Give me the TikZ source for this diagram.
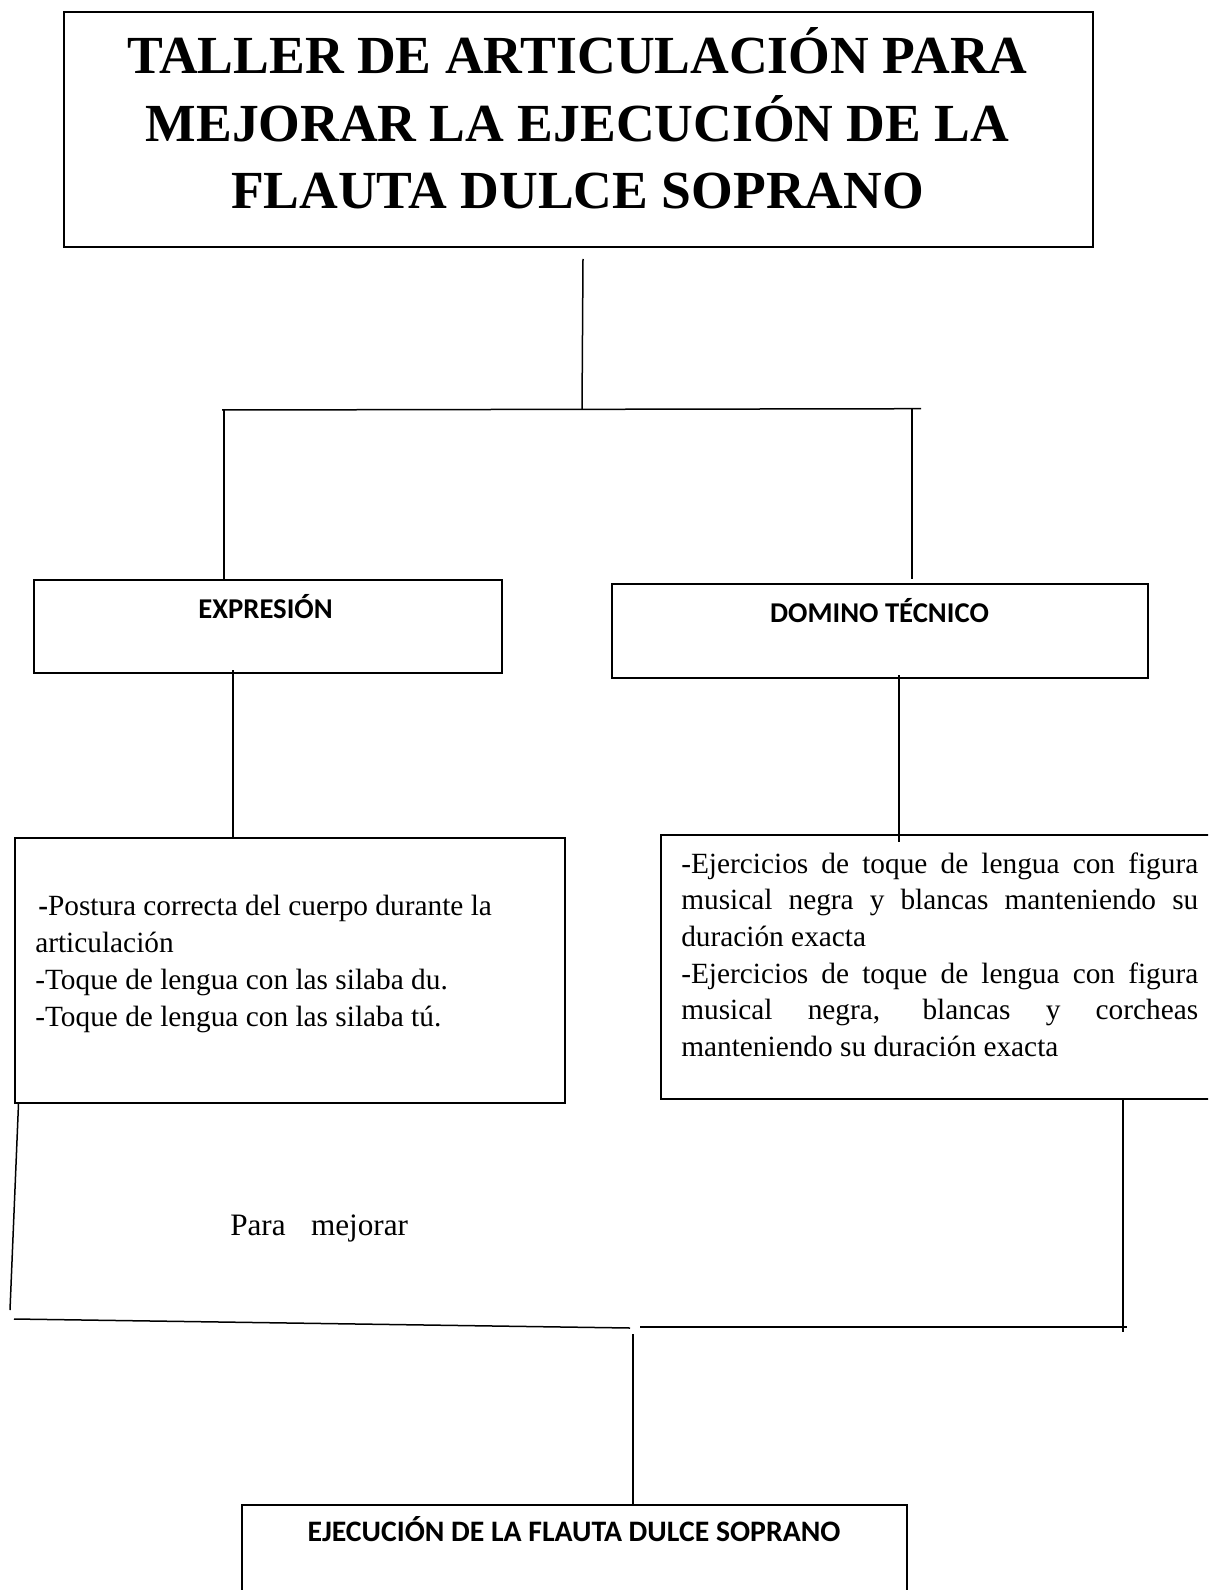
\documentclass[tikz,border=0pt]{standalone}
\usepackage{fontspec}
\setmainfont{Liberation Serif}
\newfontfamily\calib{Carlito}
\usetikzlibrary{calc}
\newlength\pxu
\setlength\pxu{0.75pt}
\begin{document}
\begin{tikzpicture}[x=0.75pt,y=-0.75pt,
  box/.style={draw, line width=2\pxu, rectangle, inner sep=0pt, anchor=north west},
  conn/.style={line width=1.5\pxu},
  txt/.style={inner sep=0pt},
  headsans/.style={txt, anchor=base, font=\calib\bfseries\fontsize{21.5pt}{25pt}\selectfont},
  bodyserif/.style={txt, anchor=base west, font=\fontsize{22pt}{27.9pt}\selectfont}]
\useasboundingbox (0,0) rectangle (1208,1590);
\clip (0,0) rectangle (1208,1590);
\fill[white] (0,0) rectangle (1208,1590);

% boxes
\node[box, minimum width=1029\pxu, minimum height=235\pxu] (title) at (63,11) {};
\node[box, minimum width=468\pxu, minimum height=93\pxu] (expr) at (33,579) {};
\node[box, minimum width=536\pxu, minimum height=94\pxu] (dom) at (611,583) {};
\node[box, minimum width=550\pxu, minimum height=265\pxu] (lb) at (14,837) {};
\node[box, minimum width=560\pxu, minimum height=264\pxu] (rb) at (660,834) {};
\node[box, minimum width=665\pxu, minimum height=120\pxu] (ej) at (241,1504) {};

% texts
\node[txt, anchor=base] (titletxt) at (577.5,74) {\parbox[t]{1000\pxu}{\centering\bfseries\fontsize{40.2pt}{50.3pt}\selectfont
TALLER DE ARTICULACIÓN PARA\\MEJORAR LA EJECUCIÓN DE LA\\FLAUTA DULCE SOPRANO}};
\node[headsans] (exprtxt) at (265.5,618) {EXPRESIÓN};
\node[headsans] (domtxt) at (879.5,622) {DOMINO TÉCNICO};
\node[headsans, font=\calib\bfseries\fontsize{22.3pt}{26pt}\selectfont] (ejtxt) at (574,1541) {EJECUCIÓN DE LA FLAUTA DULCE SOPRANO};
\node[bodyserif] (lbtxt) at (35,915) {\parbox[t]{525\pxu}{\raggedright\fontsize{22pt}{27.9pt}\selectfont
\hspace*{3\pxu}\textbf{-}Postura correcta del cuerpo durante la\\articulación\\-Toque de lengua con las silaba du.\\-Toque de lengua con las silaba tú.}};
\node[bodyserif] (rbtxt) at (681,873) {\parbox[t]{517\pxu}{\fontsize{22pt}{27.5pt}\selectfont
\makebox[\linewidth][s]{-Ejercicios de toque de lengua con figura}\\
\makebox[\linewidth][s]{musical negra y blancas manteniendo su}\\
duración exacta\\
\makebox[\linewidth][s]{-Ejercicios de toque de lengua con figura}\\
\makebox[\linewidth][s]{musical negra, blancas y corcheas}\\
manteniendo su duración exacta}};
\node[bodyserif, font=\fontsize{23.4pt}{28pt}\selectfont] (para) at (230,1235) {Para\hspace{19pt}mejorar};

% junction coordinates
\coordinate (jt) at (582,409);
\coordinate (hl) at (222,410);
\coordinate (hr) at (921,408.7);
\coordinate (vl) at (224,410);
\coordinate (vr) at (912,409);
\coordinate (bl) at (10,1310);
\coordinate (jl) at (14,1319);
\coordinate (jm) at (630,1328);
\coordinate (jm2) at (640,1327);
\coordinate (jr) at (1127,1327);
\coordinate (vbr) at (1123,1332);
\coordinate (jc) at (633,1334);

% connectors
\draw[conn] ($(title.south)+(4.5,11)$) -- (jt);
\draw[conn] (hl) -- (hr);
\draw[conn] (vl) -- (vl |- expr.north);
\draw[conn] (vr) -- ($(vr |- dom.north)+(0,-4)$);
\draw[conn] ($(expr.south west)+(200,-4)$) coordinate (e1) -- (e1 |- lb.north);
\draw[conn] ($(dom.south west)+(288,-4)$) coordinate (d1) -- ($(d1 |- rb.north)+(0,8)$);
\draw[conn] ($(lb.south west)+(4.5,0)$) -- (bl);
\draw[conn] (jl) -- (jm);
\draw[conn] (jm2) -- (jr);
\draw[conn] ($(rb.south west)+(463,0)$) -- (vbr);
\draw[conn] (jc) -- (jc |- ej.north);
\end{tikzpicture}
\end{document}
